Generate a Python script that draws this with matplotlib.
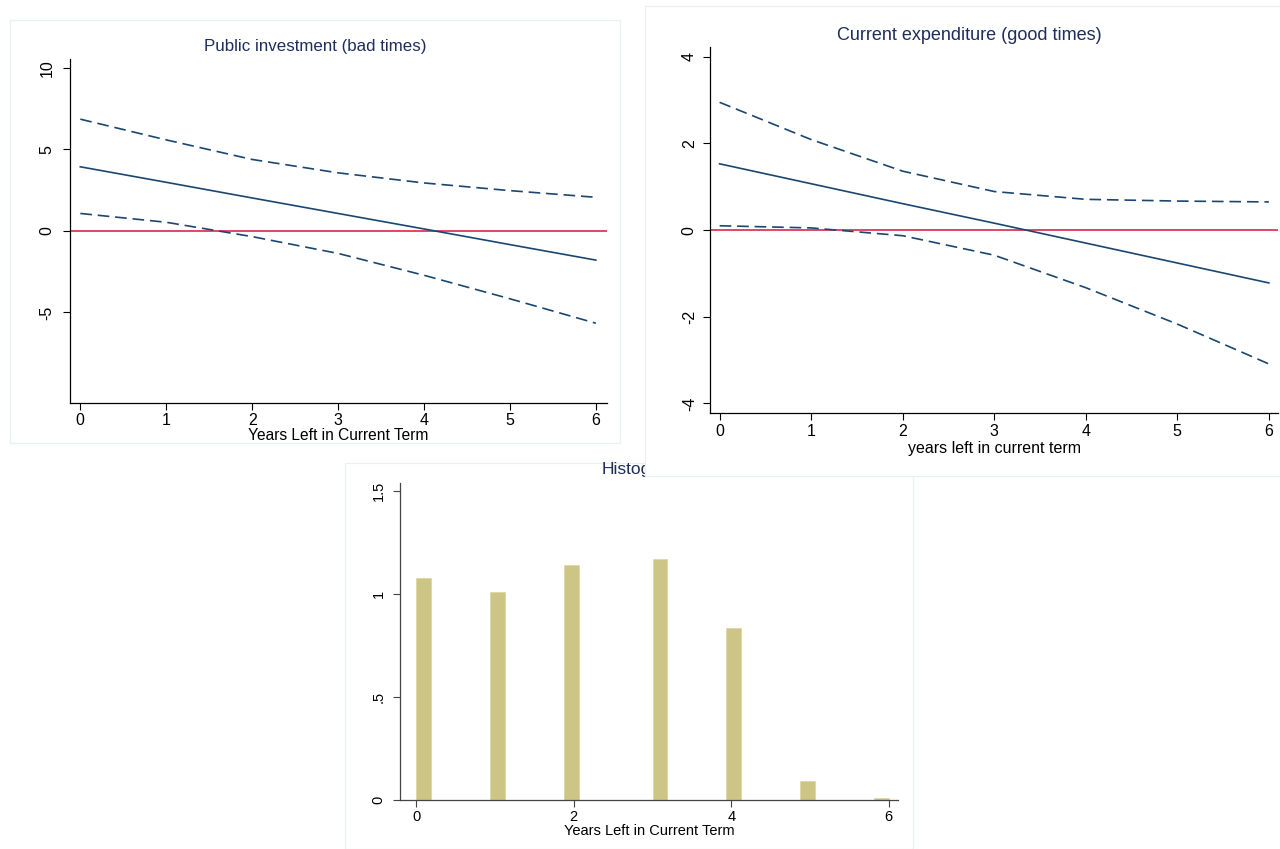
import numpy as np
import matplotlib
matplotlib.use("Agg")
import matplotlib.pyplot as plt
from matplotlib.patches import Rectangle

# ---------------- data ----------------
years = [0, 1, 2, 3, 4, 5, 6]

# Public investment (bad times): marginal effect and 95% CI
pi_effect = [3.93, 2.98, 2.02, 1.07, 0.12, -0.84, -1.79]
pi_upper = [6.85, 5.58, 4.38, 3.56, 2.94, 2.47, 2.06]
pi_lower = [1.07, 0.53, -0.35, -1.38, -2.72, -4.16, -5.66]

# Current expenditure (good times): marginal effect and 95% CI
ce_effect = [1.53, 1.07, 0.61, 0.16, -0.30, -0.76, -1.22]
ce_upper = [2.95, 2.09, 1.36, 0.89, 0.71, 0.67, 0.65]
ce_lower = [0.10, 0.05, -0.13, -0.58, -1.33, -2.17, -3.09]

# Histogram of years left in current term (density)
hist_years = [0, 1, 2, 3, 4, 5, 6]
hist_density = [1.078, 1.011, 1.142, 1.171, 0.834, 0.091, 0.010]
n_bins = 32

titles = ["Public investment (bad times)", "Current expenditure (good times)", "Histogram"]
xlabels = ["Years Left in Current Term", "years left in current term", "Years Left in Current Term"]

# ---------------- style ----------------
plt.rcParams['font.family'] = ['Liberation Sans', 'DejaVu Sans']
plt.rcParams['axes.unicode_minus'] = False
NAVY = "#1a476f"
RED = "#d8143c"
TITLE = "#1e2d5c"
BAR = "#cdc585"
PANEL_EDGE = "#e8f0f2"

W, H = 1280, 849
fig = plt.figure(figsize=(W / 100, H / 100), dpi=100)
fig.patch.set_facecolor("white")


def fx(px):
    return px / W


def fy(py):
    return 1 - py / H


def panel(x0, y0, x1, y1, z):
    r = Rectangle((fx(x0), fy(y1)), fx(x1) - fx(x0), fy(y0) - fy(y1),
                  transform=fig.transFigure, facecolor="white",
                  edgecolor=PANEL_EDGE, linewidth=0.9, zorder=z)
    fig.patches.append(r)


def style_axes(ax, tick_fs, spine_col="black", ypad=4.5):
    for s in ["top", "right"]:
        ax.spines[s].set_visible(False)
    for s in ["left", "bottom"]:
        ax.spines[s].set_color(spine_col)
        ax.spines[s].set_linewidth(0.9)
    ax.tick_params(axis="both", direction="out", length=5, width=0.8,
                   color=spine_col, labelsize=tick_fs, pad=2.5)
    ax.tick_params(axis="y", pad=ypad)
    for lab in ax.get_yticklabels():
        lab.set_rotation(90)
        lab.set_va("center")
    ax.set_facecolor("white")


# ---------------- histogram panel (underneath) ----------------
panel(345, 463, 913, 849, 0.1)
ax3 = fig.add_axes([fx(400), fy(800), fx(898) - fx(400), fy(483.3) - fy(800)])
ax3.set_zorder(0.2)
ax3.hist(hist_years, bins=np.linspace(0, 6, n_bins + 1), weights=hist_density,
         color=BAR, edgecolor="#ddd7a4", linewidth=0.6)
ax3.set_xlim(-0.207, 6.118)
ax3.set_ylim(0, 1.537)
ax3.set_xticks([0, 2, 4, 6])
ax3.set_yticks([0, 0.5, 1, 1.5])
ax3.set_yticklabels(["0", ".5", "1", "1.5"])
style_axes(ax3, 10.5, spine_col="#444444", ypad=5.5)
ax3.set_xlabel(xlabels[2], fontsize=10.5, labelpad=0)
fig.text(fx(641), fy(469), titles[2], ha="center", va="center",
         fontsize=12.5, color=TITLE, zorder=0.3)

# ---------------- top panels ----------------
panel(10, 20, 620, 443, 1)
panel(645, 6, 1290, 476, 1)

# Top-left
ax1 = fig.add_axes([fx(70), fy(403), fx(607) - fx(70), fy(59.3) - fy(403)])
ax1.set_zorder(2)
ax1.axhline(0, color=RED, linewidth=1.1, zorder=1)
ax1.plot(years, pi_upper, color=NAVY, linewidth=1.2, linestyle=(0, (7, 3.5)))
ax1.plot(years, pi_effect, color=NAVY, linewidth=1.2)
ax1.plot(years, pi_lower, color=NAVY, linewidth=1.2, linestyle=(0, (7, 3.5)))
ax1.set_xlim(-0.12, 6.13)
ax1.set_ylim(-10.55, 10.52)
ax1.set_xticks(years)
ax1.set_yticks([-5, 0, 5, 10])
style_axes(ax1, 11.5, ypad=6)
ax1.set_xlabel(xlabels[0], fontsize=11.2, labelpad=0)
fig.text(fx(315), fy(47), titles[0], ha="center", va="center",
         fontsize=12.2, color=TITLE, zorder=3)

# Top-right
ax2 = fig.add_axes([fx(710), fy(413.3), fx(1278) - fx(710), fy(47.3) - fy(413.3)])
ax2.set_zorder(2)
ax2.axhline(0, color=RED, linewidth=1.1, zorder=1)
ax2.plot(years, ce_upper, color=NAVY, linewidth=1.2, linestyle=(0, (7, 3.5)))
ax2.plot(years, ce_effect, color=NAVY, linewidth=1.2)
ax2.plot(years, ce_lower, color=NAVY, linewidth=1.2, linestyle=(0, (7, 3.5)))
ax2.set_xlim(-0.105, 6.10)
ax2.set_ylim(-4.23, 4.22)
ax2.set_xticks(years)
ax2.set_yticks([-4, -2, 0, 2, 4])
style_axes(ax2, 11.5, ypad=4.5)
ax2.set_xlabel(xlabels[1], fontsize=11.5, labelpad=2)
fig.text(fx(969.5), fy(35), titles[1], ha="center", va="center",
         fontsize=13, color=TITLE, zorder=3)

fig.savefig("out.png", dpi=100, facecolor="white")
